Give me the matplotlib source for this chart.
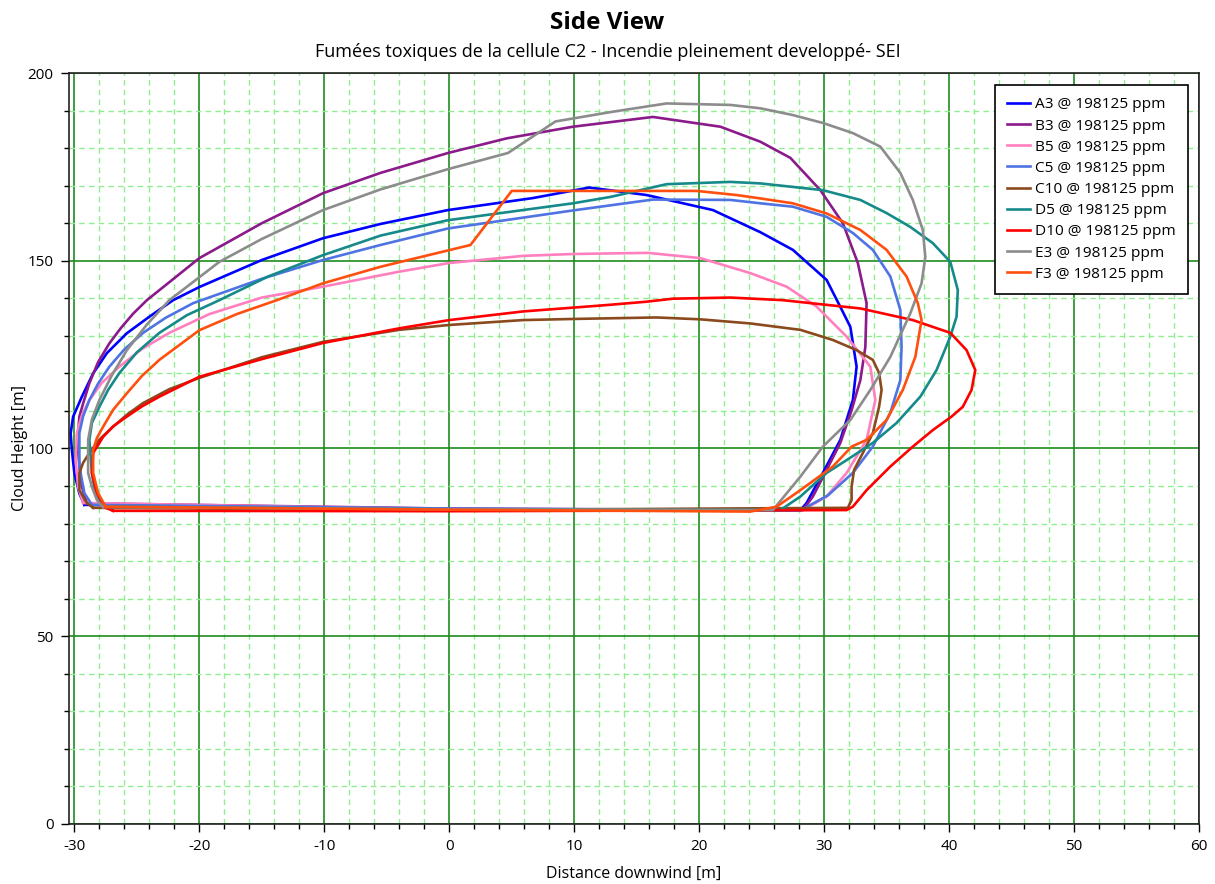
import matplotlib
matplotlib.use("Agg")
import matplotlib.pyplot as plt
from matplotlib.ticker import MultipleLocator

plt.rcParams['font.family'] = ['Open Sans', 'DejaVu Sans']
plt.rcParams['axes.unicode_minus'] = False

# Cloud outlines (distance downwind [m], cloud height [m]), traced clockwise
a3_x = [-29.2, -29.6, -30.0, -30.2, -30.3, -30.1, -29.4, -28.5, -27.4, -25.8, -24.0, -22.1, -20.0, -15.0,
        -10.1, -5.5, -0.1, 6.7, 11.2, 15.8, 21.1, 24.9, 27.5, 30.2, 31.3, 32.1, 32.6, 32.3, 31.3, 29.9,
        28.6, 28.1, 0.0, -29.2]
a3_y = [85.0, 88.0, 93.4, 99.6, 104.0, 108.5, 113.8, 120.0, 125.4, 130.7, 135.1, 139.5, 143.0, 150.2,
        156.0, 159.8, 163.5, 166.7, 169.5, 167.5, 163.5, 157.6, 152.9, 144.9, 137.7, 132.4, 121.8, 112.9, 102.3, 93.5,
        85.5, 83.5, 83.8, 85.0]

b3_x = [-29.0, -29.4, -29.6, -29.7, -29.7, -29.6, -29.3, -28.8, -28.1, -27.2, -26.3, -25.3, -24.2, -20.0,
        -15.0, -10.1, -5.5, -0.1, 4.6, 9.9, 16.3, 21.7, 24.9, 27.3, 29.7, 31.5, 32.7, 33.4, 33.3, 32.9,
        32.2, 31.3, 30.2, 29.1, 28.3, 0.0, -29.0]
b3_y = [85.4, 89.8, 95.2, 99.6, 104.0, 108.5, 112.0, 117.4, 123.0, 128.0, 132.0, 135.9, 139.5, 150.7,
        160.0, 168.0, 173.4, 178.7, 182.6, 185.7, 188.3, 185.7, 181.7, 177.4, 168.8, 160.0, 149.4, 138.7, 127.0, 118.2,
        110.2, 101.5, 94.3, 87.2, 83.6, 84.0, 85.4]

b5_x = [-29.3, -29.7, -29.9, -29.8, -29.4, -28.8, -27.8, -26.4, -24.6, -22.4, -19.2, -15.0, -10.1, -4.0,
        0.0, 5.9, 9.9, 15.9, 20.1, 24.1, 27.0, 29.4, 31.8, 33.7, 34.1, 33.4, 31.8, 30.2, 28.3, 0.0, -29.3]
b5_y = [85.5, 89.7, 96.9, 104.1, 108.8, 112.9, 117.5, 121.8, 126.5, 130.8, 135.8, 140.2, 143.1, 147.1,
        149.4, 151.3, 151.8, 152.1, 150.7, 146.7, 143.1, 137.8, 129.8, 121.8, 112.9, 102.3, 93.5, 87.2, 83.6, 83.8, 85.5]

c5_x = [-28.6, -29.2, -29.6, -29.6, -29.3, -28.8, -28.1, -27.2, -26.0, -24.5, -22.7, -20.5, -15.0, -10.1,
        -5.5, -0.1, 9.9, 16.3, 22.5, 24.9, 27.5, 30.2, 32.3, 33.9, 35.3, 36.1, 36.2, 36.1, 35.3, 33.9,
        32.3, 30.3, 28.1, 0.0, -28.6]
c5_y = [85.0, 88.1, 95.2, 104.1, 108.6, 112.9, 117.3, 121.8, 126.4, 130.8, 134.8, 138.7, 145.2, 150.2,
        154.2, 158.6, 163.4, 166.3, 166.2, 165.3, 164.4, 161.7, 157.4, 152.9, 145.8, 136.9, 127.1, 118.2, 109.5, 100.5,
        93.5, 87.5, 83.5, 84.0, 85.0]

c10_x = [-28.5, -29.0, -29.6, -29.6, -29.3, -28.8, -28.0, -26.9, -25.8, -24.5, -22.4, -20.0, -15.0, -10.1,
         -4.0, 0.0, 5.9, 9.9, 16.6, 20.1, 24.1, 28.1, 30.7, 32.6, 33.9, 34.4, 34.6, 34.4, 33.9, 33.1,
         32.4, 32.2, 32.2, 31.9, 0.0, -28.5]
c10_y = [84.2, 85.5, 88.9, 93.5, 96.2, 98.8, 102.4, 105.8, 109.0, 112.1, 115.8, 118.8, 124.3, 128.4,
         131.6, 132.9, 134.2, 134.5, 134.9, 134.4, 133.3, 131.6, 128.9, 126.2, 123.6, 120.1, 115.6, 111.1, 104.1, 98.8,
         94.3, 89.8, 86.3, 84.2, 83.6, 84.2]

d5_x = [-27.5, -28.0, -28.4, -28.6, -28.8, -28.6, -28.0, -27.3, -26.4, -25.0, -23.2, -21.0, -18.4, -14.5,
        -10.1, -5.5, -0.1, 9.9, 12.9, 17.4, 22.5, 24.9, 29.9, 32.9, 35.0, 36.9, 38.7, 40.1, 40.7, 40.6,
        40.1, 39.0, 37.7, 35.8, 33.9, 31.8, 30.2, 28.1, 26.5, 0.0, -27.5]
d5_y = [84.5, 86.3, 89.5, 93.5, 102.3, 106.8, 111.1, 115.6, 120.1, 125.6, 130.8, 135.5, 139.5, 145.8,
        151.5, 156.7, 160.8, 165.3, 167.0, 170.4, 171.0, 170.6, 168.8, 166.2, 162.7, 159.0, 154.7, 149.7, 142.2, 135.1,
        129.8, 120.9, 113.8, 106.8, 101.5, 96.9, 93.5, 87.2, 83.6, 83.8, 84.5]

d10_x = [-26.9, -27.5, -28.2, -28.6, -28.5, -27.7, -26.9, -25.8, -24.6, -23.2, -20.0, -15.0, -10.1, -4.0,
         0.0, 5.9, 12.6, 15.8, 17.9, 22.5, 26.7, 32.9, 37.1, 40.1, 41.4, 42.1, 41.8, 41.1, 40.2, 38.7,
         37.1, 35.3, 33.4, 32.3, 31.8, 0.0, -26.9]
d10_y = [83.4, 84.2, 88.1, 93.5, 98.8, 103.1, 105.9, 108.5, 111.2, 113.8, 119.1, 123.8, 128.1, 132.0,
         134.2, 136.5, 138.2, 139.1, 139.9, 140.2, 139.5, 137.3, 134.2, 130.8, 126.2, 120.9, 115.6, 111.1, 108.5, 104.9,
         100.5, 95.2, 88.9, 84.5, 83.6, 83.3, 83.4]

e3_x = [-27.7, -28.2, -28.6, -28.9, -28.9, -28.6, -28.0, -27.0, -25.8, -24.2, -22.4, -18.4, -15.0, -10.1,
        -5.5, -0.1, 4.7, 8.5, 13.1, 17.4, 22.5, 24.9, 27.5, 29.9, 32.3, 34.5, 36.1, 37.1, 37.9, 38.1,
        37.8, 36.9, 35.3, 33.7, 32.1, 29.9, 28.1, 25.9, 0.0, -27.7]
e3_y = [84.4, 86.3, 89.8, 93.5, 102.3, 107.7, 112.9, 119.5, 126.2, 133.0, 139.5, 149.7, 155.8, 163.5,
        169.0, 174.4, 178.7, 187.1, 189.7, 191.9, 191.5, 190.6, 188.8, 186.7, 184.0, 180.4, 173.4, 166.2, 158.2, 151.0,
        144.0, 136.0, 124.4, 115.6, 107.6, 100.5, 92.5, 83.6, 83.8, 84.4]

f3_x = [-27.5, -28.1, -28.5, -28.5, -28.2, -27.7, -26.9, -25.8, -24.6, -23.2, -20.0, -17.0, -13.8, -10.1,
        -5.5, 1.7, 5.0, 13.1, 19.8, 23.0, 24.9, 27.5, 30.2, 32.9, 35.0, 36.6, 37.5, 37.8, 37.3, 36.3,
        35.0, 33.4, 32.2, 30.7, 28.1, 26.2, 24.1, 0.0, -27.5]
f3_y = [84.5, 88.1, 93.5, 99.6, 102.8, 105.8, 110.3, 114.7, 119.3, 123.6, 131.5, 135.8, 139.5, 144.0,
        148.4, 154.2, 168.6, 168.6, 168.6, 167.5, 166.6, 165.3, 162.6, 158.2, 152.9, 145.8, 138.7, 134.2, 124.4, 115.6,
        107.6, 102.3, 100.5, 95.2, 88.9, 84.5, 83.2, 83.7, 84.5]

series_labels = ["A3 @ 198125 ppm", "B3 @ 198125 ppm", "B5 @ 198125 ppm", "C5 @ 198125 ppm",
                 "C10 @ 198125 ppm", "D5 @ 198125 ppm", "D10 @ 198125 ppm", "E3 @ 198125 ppm",
                 "F3 @ 198125 ppm"]
series_colors = ["#0000ff", "#8b1a8b", "#ff7fbf", "#4f73e3", "#8b4a1e", "#168a8a", "#ff0000",
                 "#8c8c8c", "#ff4f0f"]

series_x = [a3_x, b3_x, b5_x, c5_x, c10_x, d5_x, d10_x, e3_x, f3_x]
series_y = [a3_y, b3_y, b5_y, c5_y, c10_y, d5_y, d10_y, e3_y, f3_y]

fig = plt.figure(figsize=(12.15, 8.84), dpi=100)
ax = fig.add_axes([0.0568, 0.0679, 0.9300, 0.8495])

ax.set_xlim(-30.43, 60)
ax.set_ylim(0, 200)
ax.xaxis.set_major_locator(MultipleLocator(10))
ax.xaxis.set_minor_locator(MultipleLocator(2))
ax.yaxis.set_major_locator(MultipleLocator(50))
ax.yaxis.set_minor_locator(MultipleLocator(10))

ax.grid(which='minor', color='#90ee90', linestyle=(0, (4, 3)), linewidth=1.0, zorder=0)
ax.grid(which='major', color='#1f8c1f', linestyle='-', linewidth=1.2, zorder=0)
ax.set_axisbelow(True)

ax.tick_params(which='major', direction='out', length=6, width=1.0, labelsize=11, colors='black', pad=5)
ax.tick_params(which='minor', direction='out', length=3.5, width=1.0)
for sp in ax.spines.values():
    sp.set_color('#222222')
    sp.set_linewidth(1.2)

for xs, ys, lab, col in zip(series_x, series_y, series_labels, series_colors):
    ax.plot(xs, ys, color=col, linewidth=1.9, label=lab, solid_joinstyle='round')

ax.set_xlabel("Distance downwind [m]", fontsize=11.5, labelpad=8)
ax.set_ylabel("Cloud Height [m]", fontsize=11.5, labelpad=0)

fig.text(0.5, 0.974, "Side View", ha='center', va='center', fontsize=17.5, fontweight='bold')
fig.text(0.5, 0.941, "Fumées toxiques de la cellule C2 - Incendie pleinement developpé- SEI",
         ha='center', va='center', fontsize=13)

leg = ax.legend(loc='upper left', bbox_to_anchor=(0.8195, 0.984), fontsize=11.1, frameon=True,
                fancybox=False, framealpha=1, edgecolor='black', handlelength=1.5,
                labelspacing=0.4, borderpad=0.8, handletextpad=0.3, borderaxespad=0)
leg.get_frame().set_linewidth(1.2)

fig.savefig("out.png", dpi=100)
